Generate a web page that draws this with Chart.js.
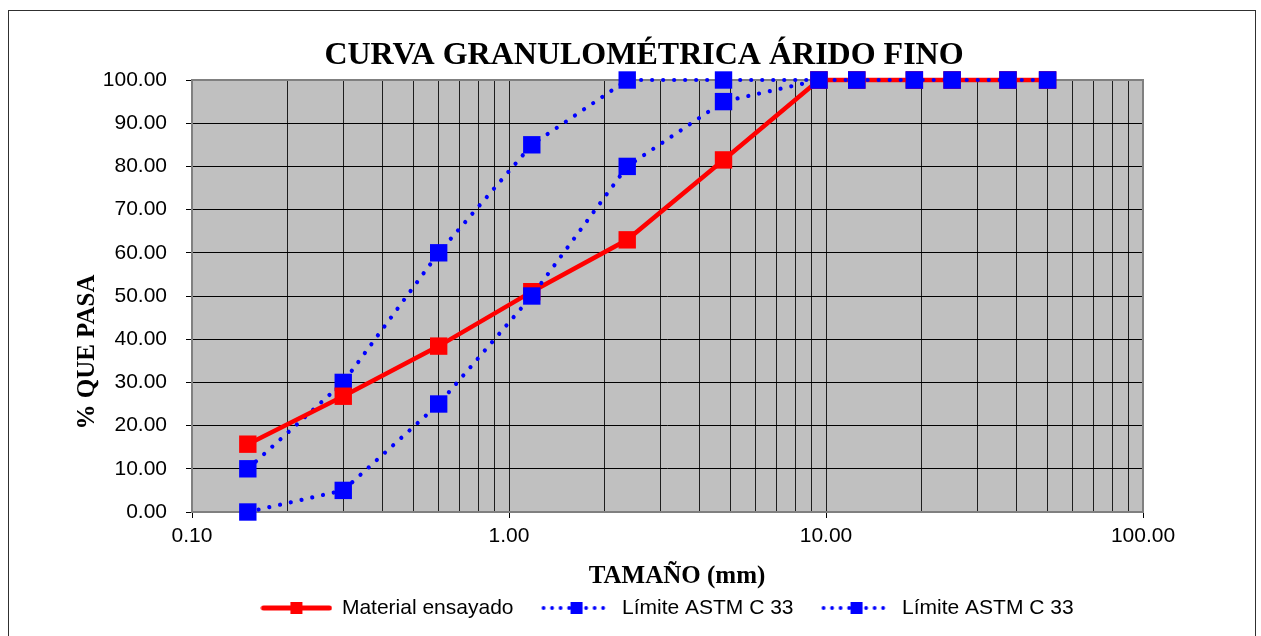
<!DOCTYPE html>
<html>
<head>
<meta charset="utf-8">
<script src="https://cdn.jsdelivr.net/npm/chart.js@4.4.1/dist/chart.umd.min.js"></script>
<style>
  html, body { margin: 0; padding: 0; background: #fff; }
  canvas { display: block; }
</style>
</head>
<body>
<canvas id="granulometria" width="1261" height="636"></canvas>
<script>
// Sieve openings (mm) and percentage passing for each curve
const sieveSizes      = [0.15, 0.3, 0.6, 1.18, 2.36, 4.75, 9.5, 12.5, 19, 25, 37.5, 50];
const materialPassing = [15.7, 26.8, 38.4, 51.0, 63.0, 81.5, 100, 100, 100, 100, 100, 100];
const upperLimit      = [10, 30, 60, 85, 100, 100, 100, 100, 100, 100, 100, 100];
const lowerLimit      = [0, 5, 25, 50, 80, 95, 100, 100, 100, 100, 100, 100];
const seriesNames     = ['Material ensayado', 'Límite ASTM C 33', 'Límite ASTM C 33'];

// Axis ticks
const xGridValues = [0.1, 0.2, 0.3, 0.4, 0.5, 0.6, 0.7, 0.8, 0.9,
                     1, 2, 3, 4, 5, 6, 7, 8, 9,
                     10, 20, 30, 40, 50, 60, 70, 80, 90, 100];
const xMajorTicks = [0.1, 1, 10, 100];
const xTickLabels = ['0.10', '1.00', '10.00', '100.00'];
const yMin = 0, yMax = 100, yStep = 10;

// Texts
const chartTitle = 'CURVA GRANULOMÉTRICA ÁRIDO FINO';
const xTitle = 'TAMAÑO (mm)';
const yTitle = '% QUE PASA';

const toPoints = (vals) => sieveSizes.map((x, i) => ({ x: x, y: vals[i] }));

// Small line+marker swatches for the legend
function legendSwatch(color, dotted) {
  const c = document.createElement('canvas');
  c.width = 72; c.height = 16;
  const g = c.getContext('2d');
  g.strokeStyle = color; g.fillStyle = color;
  g.beginPath();
  if (dotted) {
    g.lineWidth = 3.8; g.lineCap = 'round'; g.setLineDash([0.01, 8.5]);
    g.moveTo(3, 8); g.lineTo(70, 8);
  } else {
    g.lineWidth = 5; g.lineCap = 'round';
    g.moveTo(3, 8); g.lineTo(69, 8);
  }
  g.stroke();
  g.setLineDash([]);
  g.fillRect(30, 2, 12, 12);
  return c;
}
const swatches = [legendSwatch('#ff0000', false), legendSwatch('#0000ff', true), legendSwatch('#0000ff', true)];

// Background, frame, plot border and the serif titles
const chartDecor = {
  id: 'chartDecor',
  beforeDraw(chart) {
    const { ctx, chartArea: a } = chart;
    ctx.save();
    ctx.fillStyle = '#ffffff';
    ctx.fillRect(0, 0, chart.width, chart.height);
    ctx.strokeStyle = '#303030';
    ctx.lineWidth = 1;
    ctx.strokeRect(8.5, 10.5, 1247, chart.height + 10);
    ctx.fillStyle = '#c0c0c0';
    ctx.fillRect(a.left, a.top, a.right - a.left, a.bottom - a.top);
    ctx.restore();
  },
  beforeDatasetsDraw(chart) {
    const { ctx, chartArea: a } = chart;
    ctx.save();
    ctx.strokeStyle = '#808080';
    ctx.lineWidth = 2;
    ctx.strokeRect(a.left, a.top, a.right - a.left, a.bottom - a.top);
    ctx.restore();
  },
  afterDraw(chart) {
    const { ctx } = chart;
    ctx.save();
    ctx.fillStyle = '#000';
    ctx.textAlign = 'center';
    ctx.textBaseline = 'middle';
    ctx.font = 'bold 32px "Liberation Serif", "Times New Roman", serif';
    ctx.fillText(chartTitle, 644, 56);
    ctx.font = 'bold 25px "Liberation Serif", "Times New Roman", serif';
    ctx.fillText(xTitle, 677, 577);
    ctx.translate(88, 352);
    ctx.rotate(-Math.PI / 2);
    ctx.fillText(yTitle, 0, 0);
    ctx.restore();
  }
};

const limitStyle = {
  borderColor: '#0000ff',
  backgroundColor: '#0000ff',
  borderWidth: 4.2,
  borderDash: [0.01, 11],
  borderCapStyle: 'round',
  pointStyle: 'rect',
  pointRadius: 12.3,
  pointHoverRadius: 12.3,
  pointBorderWidth: 0,
  pointBackgroundColor: '#0000ff',
  tension: 0,
  clip: false
};

new Chart(document.getElementById('granulometria'), {
  type: 'line',
  data: {
    datasets: [
      {
        label: seriesNames[0],
        data: toPoints(materialPassing),
        borderColor: '#ff0000',
        backgroundColor: '#ff0000',
        borderWidth: 4.5,
        pointStyle: 'rect',
        pointRadius: 12.3,
        pointHoverRadius: 12.3,
        pointBorderWidth: 0,
        pointBackgroundColor: '#ff0000',
        tension: 0,
        clip: false,
        order: 1
      },
      Object.assign({ label: seriesNames[1], data: toPoints(upperLimit), order: 2 }, limitStyle),
      Object.assign({ label: seriesNames[2], data: toPoints(lowerLimit), order: 0 }, limitStyle)
    ]
  },
  options: {
    responsive: false,
    animation: false,
    events: [],
    devicePixelRatio: 1,
    layout: { padding: { top: 80, left: 0, right: 118, bottom: 7.5 } },
    scales: {
      x: {
        type: 'logarithmic',
        min: 0.1,
        max: 100,
        afterBuildTicks(scale) {
          scale.ticks = xGridValues.map(v => ({ value: v, major: xMajorTicks.includes(v) }));
        },
        afterFit(scale) { scale.height = 57.5; },
        border: { display: false },
        grid: {
          color: '#1e1e1e',
          lineWidth: 1,
          drawTicks: true,
          tickLength: 6,
          tickColor: (ctx) => (ctx.tick && xMajorTicks.includes(ctx.tick.value)) ? '#000' : 'rgba(0,0,0,0)'
        },
        ticks: {
          autoSkip: false,
          maxRotation: 0,
          minRotation: 0,
          padding: 6,
          color: '#000',
          font: { family: 'Liberation Sans', size: 21 },
          callback: (value) => {
            const i = xMajorTicks.indexOf(value);
            return i >= 0 ? xTickLabels[i] : '';
          }
        }
      },
      y: {
        min: yMin,
        max: yMax,
        afterFit(scale) { scale.width = 192; },
        border: { display: false },
        grid: {
          color: '#000',
          lineWidth: 1,
          drawTicks: true,
          tickLength: 6,
          tickColor: '#000'
        },
        ticks: {
          stepSize: yStep,
          padding: 19,
          color: '#000',
          font: { family: 'Liberation Sans', size: 21 },
          callback: (value) => Number(value).toFixed(2)
        }
      }
    },
    plugins: {
      title: { display: false },
      tooltip: { enabled: false },
      legend: {
        display: true,
        position: 'bottom',
        fullSize: false,
        labels: {
          usePointStyle: true,
          pointStyleWidth: 70,
          padding: 28,
          color: '#000',
          font: { family: 'Liberation Sans', size: 21 },
          sort: (a, b) => a.datasetIndex - b.datasetIndex,
          generateLabels: (chart) => chart.data.datasets.map((ds, i) => ({
            text: ds.label,
            fontColor: '#000',
            fillStyle: 'rgba(0,0,0,0)',
            strokeStyle: 'rgba(0,0,0,0)',
            lineWidth: 0,
            hidden: false,
            pointStyle: swatches[i],
            datasetIndex: i
          }))
        }
      }
    }
  },
  plugins: [chartDecor]
});
</script>
</body>
</html>
